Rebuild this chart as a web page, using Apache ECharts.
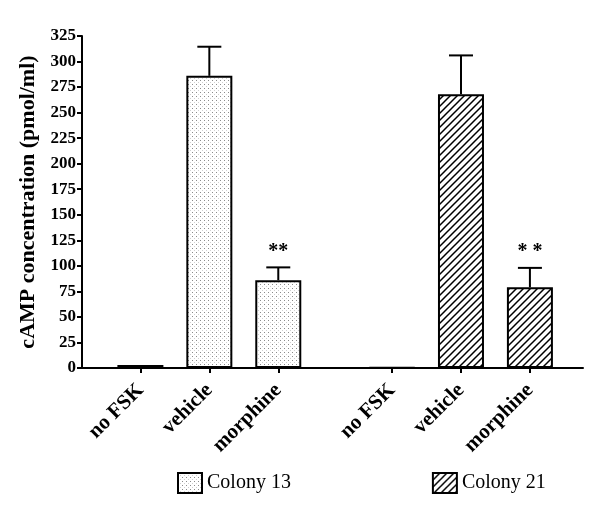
<!DOCTYPE html>
<html>
<head>
<meta charset="utf-8">
<script src="https://cdn.jsdelivr.net/npm/echarts@6/dist/echarts.min.js"></script>
<style>
    html, body { margin: 0; padding: 0; background: #fff; }
    #chart { width: 600px; height: 516px; }
</style>
</head>
<body>
<div id="chart"></div>
<script>
    // 数据
    const categories = ['no FSK', 'vehicle', 'morphine', 'no FSK', 'vehicle', 'morphine'];
    const xPos13 = [1, 2, 3];
    const xPos21 = [4.65, 5.65, 6.65];
    const colony13 = [3, 286, 86];
    const colony13Err = [0, 28.5, 12.5];
    const colony21 = [0.5, 268, 79];
    const colony21Err = [0, 38, 19];
    const sigMarks13 = ['', '', '**'];
    const sigMarks21 = ['', '', '* *'];
    const yTicks = [0, 25, 50, 75, 100, 125, 150, 175, 200, 225, 250, 275, 300, 325];

    const serif = '"Liberation Serif", "Times New Roman", serif';
    const xPos = xPos13.concat(xPos21);

    // 点状填充
    function dotPattern() {
        let c = document.createElement('canvas');
        c.width = 4; c.height = 4;
        let ctx = c.getContext('2d');
        ctx.fillStyle = '#fff';
        ctx.fillRect(0, 0, 4, 4);
        ctx.fillStyle = '#8a8a8a';
        ctx.fillRect(0, 0, 1, 1);
        ctx.fillStyle = '#d0d0d0';
        ctx.fillRect(2, 2, 1, 1);
        return c;
    }

    // 斜线填充
    function hatchPattern() {
        let s = 7;
        let c = document.createElement('canvas');
        c.width = s; c.height = s;
        let ctx = c.getContext('2d');
        ctx.fillStyle = '#fff';
        ctx.fillRect(0, 0, s, s);
        ctx.strokeStyle = '#000';
        ctx.lineWidth = 1.5;
        ctx.beginPath();
        ctx.moveTo(0, s); ctx.lineTo(s, 0);
        ctx.moveTo(-1, 1); ctx.lineTo(1, -1);
        ctx.moveTo(s - 1, s + 1); ctx.lineTo(s + 1, s - 1);
        ctx.stroke();
        return c;
    }

    function pairs(xs, ys) {
        return xs.map((x, i) => [x, ys[i]]);
    }

    let errData = [];
    xPos13.forEach((x, i) => errData.push([x, colony13[i], colony13Err[i], sigMarks13[i]]));
    xPos21.forEach((x, i) => errData.push([x, colony21[i], colony21Err[i], sigMarks21[i]]));

    let chart = echarts.init(document.getElementById('chart'));
    let option = {
        animation: false,
        backgroundColor: '#fff',
        grid: {
            left: 82,
            right: 17,
            top: 36,
            bottom: 148
        },
        legend: {
            left: 177,
            top: 472,
            padding: 0,
            itemWidth: 24,
            itemHeight: 20,
            itemGap: 141,
            icon: 'rect',
            textStyle: {
                fontFamily: serif,
                fontSize: 20,
                color: '#000'
            },
            data: ['Colony 13', 'Colony 21']
        },
        xAxis: {
            type: 'value',
            min: 0.153,
            max: 7.42,
            splitLine: { show: false },
            axisLine: {
                lineStyle: { color: '#000', width: 2 }
            },
            axisTick: {
                show: true,
                customValues: xPos,
                length: 5,
                lineStyle: { color: '#000', width: 2 }
            },
            axisLabel: {
                customValues: xPos,
                rotate: 45,
                margin: 19,
                fontFamily: serif,
                fontWeight: 'bold',
                fontSize: 21,
                color: '#000',
                formatter: function (v) {
                    let idx = xPos.findIndex(p => Math.abs(p - v) < 1e-6);
                    return idx >= 0 ? categories[idx] : '';
                }
            }
        },
        yAxis: {
            type: 'value',
            min: 0,
            max: 325,
            interval: 25,
            name: 'cAMP concentration (pmol/ml)',
            nameLocation: 'middle',
            nameGap: 33,
            nameTextStyle: {
                fontFamily: serif,
                fontWeight: 'bold',
                fontSize: 22,
                color: '#000'
            },
            splitLine: { show: false },
            axisLine: {
                show: true,
                lineStyle: { color: '#000', width: 2 }
            },
            axisTick: {
                show: true,
                length: 5,
                lineStyle: { color: '#000', width: 2 }
            },
            axisLabel: {
                margin: 6,
                fontFamily: serif,
                fontWeight: 'bold',
                fontSize: 17,
                color: '#000',
                formatter: function (v) {
                    return yTicks.indexOf(v) >= 0 ? String(v) : '';
                }
            }
        },
        series: [
            {
                name: 'Colony 13',
                type: 'bar',
                barWidth: 46,
                barGap: '-100%',
                data: pairs(xPos13, colony13),
                itemStyle: {
                    color: { image: dotPattern(), repeat: 'repeat' },
                    borderColor: '#000',
                    borderWidth: 2
                }
            },
            {
                name: 'Colony 21',
                type: 'bar',
                barWidth: 46,
                barGap: '-100%',
                data: pairs(xPos21, colony21),
                itemStyle: {
                    color: { image: hatchPattern(), repeat: 'repeat' },
                    borderColor: '#000',
                    borderWidth: 2
                }
            },
            {
                name: 'err',
                type: 'custom',
                z: 5,
                data: errData,
                renderItem: function (params, api) {
                    let x = api.value(0);
                    let y = api.value(1);
                    let e = api.value(2);
                    let sig = errData[params.dataIndex][3];
                    let base = api.coord([x, y]);
                    let top = api.coord([x, y + e]);
                    let children = [];
                    if (e > 0) {
                        children.push({
                            type: 'line',
                            shape: { x1: base[0], y1: base[1], x2: top[0], y2: top[1] },
                            style: { stroke: '#000', lineWidth: 2 }
                        });
                        children.push({
                            type: 'line',
                            shape: { x1: top[0] - 12, y1: top[1], x2: top[0] + 12, y2: top[1] },
                            style: { stroke: '#000', lineWidth: 2 }
                        });
                    }
                    if (sig) {
                        children.push({
                            type: 'text',
                            style: {
                                text: sig,
                                x: top[0],
                                y: top[1] - 6,
                                align: 'center',
                                verticalAlign: 'bottom',
                                font: 'bold 20px ' + serif,
                                fill: '#000'
                            }
                        });
                    }
                    return { type: 'group', children: children };
                }
            }
        ]
    };
    chart.setOption(option);
</script>
</body>
</html>
